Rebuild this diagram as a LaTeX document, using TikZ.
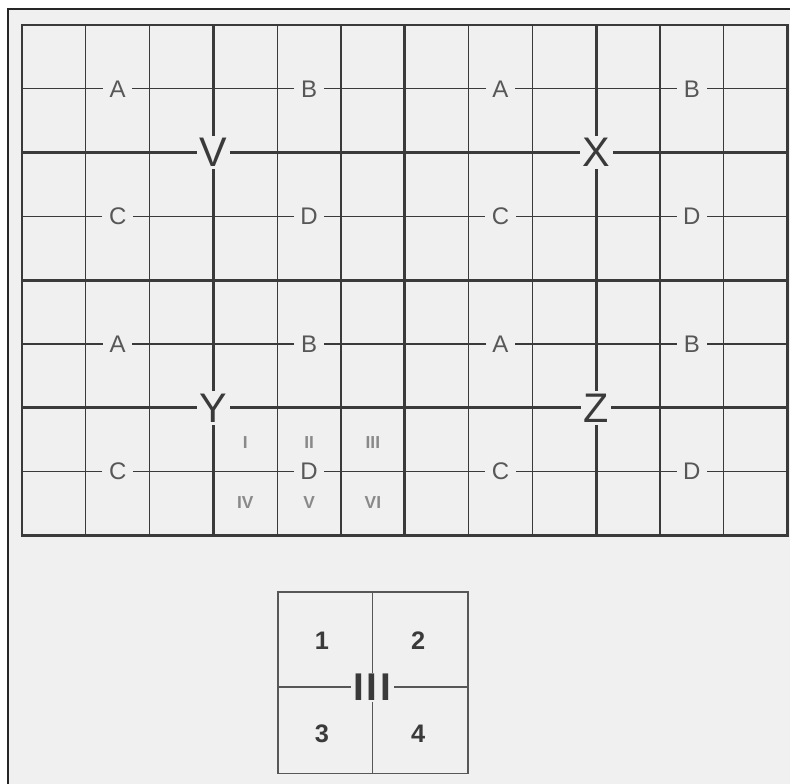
\documentclass[tikz,border=0pt]{standalone}
\usepackage{fontspec}
\setmainfont{Liberation Sans}
\definecolor{paper}{HTML}{F0F0F0}
\definecolor{ink}{HTML}{3A3A3A}
\tikzset{
  thinline/.style={ink,line width=1pt},
  thickline/.style={ink,line width=2.2pt},
  boxline/.style={ink!85,line width=1.1pt},
  cellletter/.style={fill=paper,text=ink!85,inner xsep=5pt,inner ysep=1pt,font=\fontsize{18}{18}\selectfont},
  bigletter/.style={fill=paper,text=ink,inner sep=2pt,font=\fontsize{31}{31}\selectfont},
  subnum/.style={text=ink!60,font=\fontsize{13}{13}\selectfont\bfseries},
  boxnum/.style={text=ink,font=\fontsize{19}{19}\selectfont\bfseries},
  boxcentre/.style={fill=paper,text=ink,inner xsep=2pt,inner ysep=1pt,font=\fontsize{29}{29}\selectfont\bfseries},
}
\begin{document}
\begin{tikzpicture}[x=47.85pt,y=47.85pt]
\useasboundingbox (-0.345,-3.890) rectangle (12.038,8.392);
\fill[white] (-0.345,-3.890) rectangle (12.038,8.392);
\fill[paper] (-0.219,-3.890) rectangle (12.038,8.251);
\draw[black!85,line width=1.2pt] (-0.219,-3.890)--(-0.219,8.251)--(12.038,8.251);
% thin grid
\foreach \u in {1,2,4,5,7,8,10,11}{
  \draw[thinline] (\u,0)--(\u,8);
}
\foreach \v in {1,3,5,7}{
  \draw[thinline] (0,\v)--(12,\v);
}
% thick grid
\foreach \u in {3,6,9}{
  \draw[thickline] (\u,0)--(\u,8);
}
\foreach \v in {2,4,6}{
  \draw[thickline] (0,\v)--(12,\v);
}
\draw[thickline] (0,0) rectangle (12,8);
% quarters
\foreach \q/\u/\v in {V/0/4,X/6/4,Y/0/0,Z/6/0}{
  \node[cellletter] (\q A) at (\u+1.5,\v+3) {A};
  \node[cellletter] (\q B) at (\u+4.5,\v+3) {B};
  \node[cellletter] (\q C) at (\u+1.5,\v+1) {C};
  \node[cellletter] (\q D) at (\u+4.5,\v+1) {D};
  \node[bigletter] (\q) at (\u+3,\v+2) {\q};
}
% sixths of D
\foreach \t/\u/\v in {I/3.5/1.45,II/4.5/1.45,III/5.5/1.45,IV/3.5/0.52,V/4.5/0.52,VI/5.5/0.52}{
  \node[subnum] (sub\t) at (\u,\v) {\t};
}
% quarter key
\draw[boxline] (4.01,-3.73) rectangle (6.99,-0.89);
\draw[boxline] (5.49,-3.73)--(5.49,-0.89);
\draw[boxline] (4.01,-2.38)--(6.99,-2.38);
\node[boxcentre] (key) at (5.49,-2.38) {I\hspace{2pt}I\hspace{2pt}I};
\node[boxnum] (k1) at (4.70,-1.65) {1};
\node[boxnum] (k2) at (6.21,-1.65) {2};
\node[boxnum] (k3) at (4.70,-3.11) {3};
\node[boxnum] (k4) at (6.21,-3.11) {4};
\end{tikzpicture}
\end{document}
